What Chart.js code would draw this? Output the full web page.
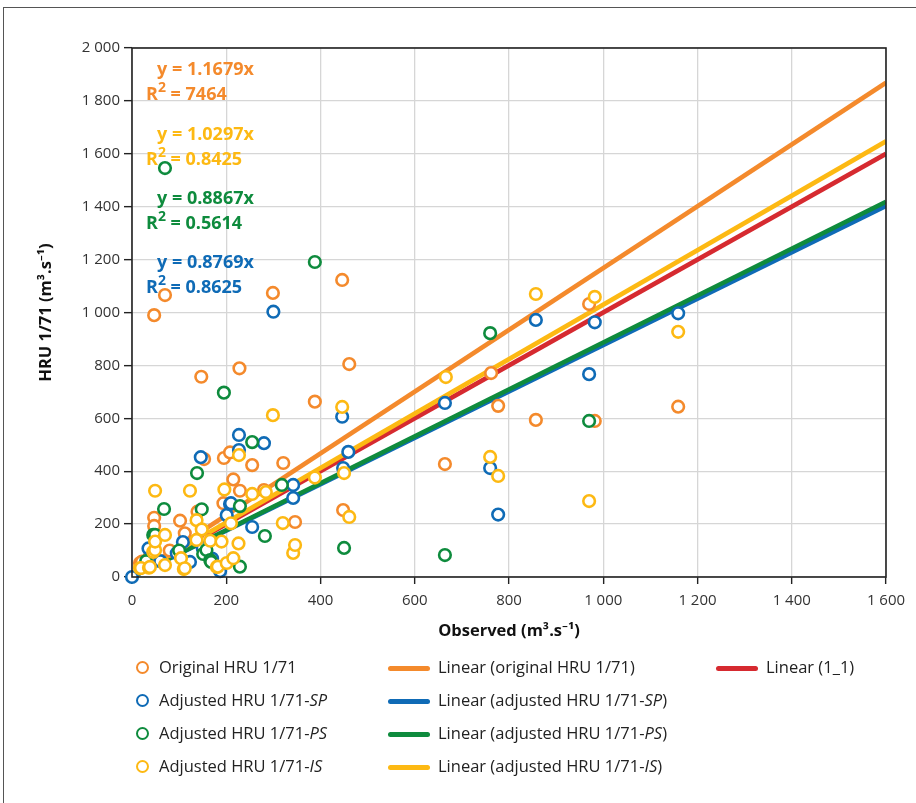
<!DOCTYPE html>
<html>
<head>
<meta charset="utf-8">
<script src="https://cdn.jsdelivr.net/npm/chart.js@4.4.1/dist/chart.umd.min.js"></script>
<style>
  html, body { margin: 0; padding: 0; background: #fff; }
  #wrap { position: relative; width: 916px; height: 803px; overflow: hidden; font-family: "Open Sans", "Noto Sans", sans-serif; }
  #frame { position: absolute; left: 3px; top: 7px; width: 930px; height: 820px; border-left: 1.5px solid #555; border-top: 1.5px solid #555; }
  #cv { position: absolute; left: 0; top: 0; }
  .ann { position: absolute; font-weight: bold; font-size: 18px; line-height: 20px; white-space: nowrap; }
  .ann sup { font-size: 14px; position: relative; top: -3px; vertical-align: top; line-height: 14px; }
  .leg { position: absolute; font-size: 16.5px; color: #222; white-space: nowrap; line-height: 20px; }
  .mk { position: absolute; width: 9px; height: 9px; border-radius: 50%; border: 2.5px solid; background: #fff; }
  .ln { position: absolute; width: 42px; height: 5px; border-radius: 3px; }
</style>
</head>
<body>
<div id="wrap">
  <div id="frame"></div>
  <canvas id="cv" width="916" height="660"></canvas>
  <div id="anns"></div>
  <div id="legend"></div>
</div>
<script>
// ---------- data ----------
const xTicks = [0, 200, 400, 600, 800, 1000, 1200, 1400, 1600];
const yTicks = [0, 200, 400, 600, 800, 1000, 1200, 1400, 1600, 1800, 2000];

const obsOrig = [17, 21, 35, 47, 47, 47, 70, 80, 102, 112, 139, 147, 153, 160, 194, 195, 208, 215, 228, 229, 255, 280, 299, 321, 346, 388, 446, 448, 461, 664, 762, 777, 857, 970, 982, 1159];
const hruOrig = [53, 58, 70, 990, 224, 193, 1066, 100, 213, 165, 247, 757, 446, 140, 279, 450, 471, 369, 789, 326, 423, 329, 1074, 431, 208, 663, 1123, 253, 805, 427, 771, 647, 594, 1032, 590, 644];

const obsSP = [0, 35, 60, 95, 108, 123, 146, 150, 170, 187, 201, 208, 210, 227, 227, 255, 280, 300, 342, 342, 446, 448, 459, 664, 760, 777, 857, 970, 982, 1159];
const hruSP = [0, 108, 60, 90, 132, 57, 453, 110, 70, 22, 234, 276, 279, 537, 480, 189, 506, 1003, 348, 299, 606, 412, 473, 658, 412, 236, 972, 767, 963, 997];

const obsPS = [30, 45, 49, 68, 70, 100, 138, 148, 151, 158, 166, 168, 195, 229, 229, 255, 282, 318, 388, 450, 664, 760, 970];
const hruPS = [60, 159, 159, 257, 1546, 100, 393, 256, 87, 102, 64, 57, 697, 268, 39, 510, 155, 348, 1191, 110, 83, 922, 590];

const obsIS = [17, 19, 36, 38, 45, 49, 49, 49, 70, 70, 104, 110, 112, 123, 137, 137, 148, 166, 180, 182, 190, 196, 201, 210, 215, 226, 227, 255, 284, 299, 320, 342, 346, 388, 446, 450, 461, 666, 760, 777, 857, 970, 982, 1159];
const hruIS = [33, 34, 35, 38, 95, 102, 134, 326, 159, 45, 71, 30, 33, 326, 215, 140, 180, 137, 38, 39, 134, 331, 53, 203, 71, 127, 461, 314, 321, 612, 204, 91, 121, 376, 643, 393, 227, 756, 454, 382, 1070, 287, 1059, 927];

const seriesNames = ["Original HRU 1/71", "Adjusted HRU 1/71-SP", "Adjusted HRU 1/71-PS", "Adjusted HRU 1/71-IS"];
const lineNames = ["Linear (original HRU 1/71)", "Linear (adjusted HRU 1/71-SP)", "Linear (adjusted HRU 1/71-PS)", "Linear (adjusted HRU 1/71-IS)", "Linear (1_1)"];
const slopes = [1.1679, 0.8769, 0.8867, 1.0297, 1.0];
const slopeText = ["1.1679", "0.8769", "0.8867", "1.0297"];
const r2Text = ["7464", "0.8625", "0.5614", "0.8425"];

const colOrange = "#F48A2C", colBlue = "#0F6BB6", colGreen = "#0E8B3D", colYellow = "#FDB913", colRed = "#D62A30";
const colors = [colOrange, colBlue, colGreen, colYellow, colRed];

function pts(xs, ys) { return xs.map((x, i) => ({ x: x, y: ys[i] })); }
const xMax = xTicks[xTicks.length - 1];
function trend(k) { return [{ x: 0, y: 0 }, { x: xMax, y: xMax * k }]; }

function scatterDs(label, data, color, order) {
  return { type: 'scatter', label, data, borderColor: color, backgroundColor: '#ffffff', pointRadius: 5.8, pointBorderWidth: 2.6, pointHoverRadius: 5.8, order, clip: false };
}
function lineDs(label, data, color, order) {
  return { type: 'line', label, data, borderColor: color, backgroundColor: color, borderWidth: 4.6, pointRadius: 0, order, borderCapStyle: 'butt', fill: false, tension: 0 };
}

const datasets = [
  scatterDs(seriesNames[0], pts(obsOrig, hruOrig), colOrange, 4),
  scatterDs(seriesNames[1], pts(obsSP, hruSP), colBlue, 3),
  scatterDs(seriesNames[2], pts(obsPS, hruPS), colGreen, 2),
  scatterDs(seriesNames[3], pts(obsIS, hruIS), colYellow, 1),
  lineDs(lineNames[4], trend(slopes[4]), colRed, 14),
  lineDs(lineNames[0], trend(slopes[0]), colOrange, 13),
  lineDs(lineNames[1], trend(slopes[1]), colBlue, 12),
  lineDs(lineNames[2], trend(slopes[2]), colGreen, 11),
  lineDs(lineNames[3], trend(slopes[3]), colYellow, 10)
];

function fmt(v) {
  const s = String(v);
  return s.length > 3 ? s.slice(0, s.length - 3) + ' ' + s.slice(s.length - 3) : s;
}

const boxPlugin = {
  id: 'box',
  afterDraw(chart) {
    const { ctx, chartArea: a } = chart;
    ctx.save();
    ctx.strokeStyle = '#222';
    ctx.lineWidth = 1.6;
    ctx.strokeRect(a.left, a.top, a.right - a.left, a.bottom - a.top);
    ctx.restore();
  }
};

const tickFont = { family: "'Open Sans', 'Noto Sans', sans-serif", size: 15 };
const titleFont = { family: "'Open Sans', 'Noto Sans', sans-serif", size: 16.5, weight: 'bold' };

new Chart(document.getElementById('cv'), {
  type: 'scatter',
  data: { datasets },
  options: {
    responsive: false,
    animation: false,
    devicePixelRatio: 1,
    layout: { padding: { top: 48, right: 30, left: 0, bottom: 0 } },
    plugins: { legend: { display: false }, tooltip: { enabled: false } },
    scales: {
      x: {
        type: 'linear', min: xTicks[0], max: xMax,
        afterBuildTicks(s) { s.ticks = xTicks.map(v => ({ value: v })); },
        afterFit(s) { s.height = 83; },
        ticks: { callback: v => fmt(v), font: tickFont, color: '#333', padding: 8, maxRotation: 0 },
        grid: { color: '#D6D6D6', lineWidth: 1.3, tickColor: '#222', tickLength: 7, tickWidth: 1.4 },
        border: { display: false },
        title: { display: true, text: 'Observed (m³.s⁻¹)', font: titleFont, color: '#111', padding: { bottom: 19, top: 0 } }
      },
      y: {
        type: 'linear', min: yTicks[0], max: yTicks[yTicks.length - 1],
        afterBuildTicks(s) { s.ticks = yTicks.map(v => ({ value: v })); },
        afterFit(s) { s.width = 132; },
        ticks: { callback: v => fmt(v), font: tickFont, color: '#333', padding: 4 },
        grid: { color: '#D6D6D6', lineWidth: 1.3, tickColor: '#222', tickLength: 8, tickWidth: 1.4 },
        border: { display: false },
        title: { display: true, text: 'HRU 1/71 (m³.s⁻¹)', font: titleFont, color: '#111', padding: { top: 36, bottom: 0 } }
      }
    }
  },
  plugins: [boxPlugin]
});

// ---------- regression annotations (real text) ----------
const annOrder = [0, 3, 2, 1]; // orange, yellow, green, blue from top
const annTops = [68, 133, 197, 261];
const anns = document.getElementById('anns');
annOrder.forEach((si, k) => {
  const a = document.createElement('div');
  a.className = 'ann'; a.style.color = colors[si];
  a.style.left = '157px'; a.style.top = (annTops[k] - 10) + 'px';
  a.textContent = 'y = ' + slopeText[si] + 'x';
  anns.appendChild(a);
  const b = document.createElement('div');
  b.className = 'ann'; b.style.color = colors[si];
  b.style.left = '146px'; b.style.top = (annTops[k] + 15) + 'px';
  b.innerHTML = 'R<sup>2</sup> = ' + r2Text[si];
  anns.appendChild(b);
});

// ---------- legend (HTML, for italic suffixes) ----------
const legend = document.getElementById('legend');
const rowsY = [668, 701, 734, 767];
function labelHTML(name) {
  const m = name.match(/^(.*-)(SP|PS|IS)(\)?)$/);
  return m ? m[1] + '<i>' + m[2] + '</i>' + m[3] : name;
}
function addText(x, y, html) {
  const t = document.createElement('div');
  t.className = 'leg'; t.style.left = x + 'px'; t.style.top = (y - 11) + 'px';
  t.innerHTML = html; legend.appendChild(t);
}
seriesNames.forEach((n, i) => {
  const m = document.createElement('div');
  m.className = 'mk'; m.style.borderColor = colors[i];
  m.style.left = (143 - 7) + 'px'; m.style.top = (rowsY[i] - 7) + 'px';
  legend.appendChild(m);
  addText(159, rowsY[i], labelHTML(n));
});
[0, 1, 2, 3].forEach(i => {
  const l = document.createElement('div');
  l.className = 'ln'; l.style.background = colors[i];
  l.style.left = '388px'; l.style.top = (rowsY[i] - 2.5) + 'px';
  legend.appendChild(l);
  addText(438, rowsY[i], labelHTML(lineNames[i]));
});
{
  const l = document.createElement('div');
  l.className = 'ln'; l.style.background = colRed;
  l.style.left = '716px'; l.style.top = (rowsY[0] - 2.5) + 'px';
  legend.appendChild(l);
  addText(766, rowsY[0], lineNames[4]);
}
</script>
</body>
</html>
